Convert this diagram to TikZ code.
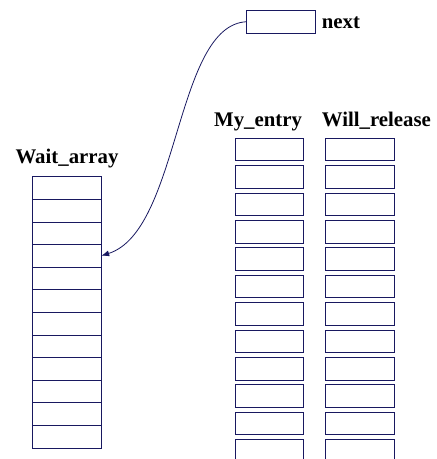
\documentclass[tikz,border=0pt]{standalone}
\usepackage{fontspec}
\setmainfont{Liberation Serif}
\usetikzlibrary{arrows.meta,positioning}
\definecolor{linenavy}{RGB}{24,24,96}
\tikzset{
   cell/.style = {rectangle,draw=linenavy,line width=0.8pt,minimum width=68.4pt,minimum height=22.6pt,inner sep=0pt,outer sep=0pt},
   title/.style = {font=\bfseries\fontsize{20.8}{25}\selectfont,inner sep=0pt},
   arrow/.style = {-{Latex[length=8pt,width=6pt]},draw=linenavy,line width=0.8pt},
}
\begin{document}
\begin{tikzpicture}

      \useasboundingbox (0pt,0pt) rectangle (437pt,-459pt);

      % wait array
      \foreach \i in {1,...,12}{
         \node[cell] (w\i) at (67pt,{-176.7pt-22.6pt*(\i-0.5)}) {};
      }
      \node[title,anchor=base] (waitlbl) at ([yshift=13.4pt]w1.north) {Wait\_array};

      % entry columns
      \foreach \i in {1,...,12}{
         \node[cell,minimum height=22.5pt] (my\i) at (269.2pt,{-149.5pt-27.4pt*(\i-1)}) {};
         \node[cell,minimum height=22.5pt] (will\i) at (359.9pt,{-149.5pt-27.4pt*(\i-1)}) {};
      }
      \node[title,anchor=base west] (mylbl) at (214pt,-126pt) {My\_entry};
      \node[title,anchor=base west] (willlbl) at (321.7pt,-126pt) {Will\_release};

      % next pointer
      \node[cell,minimum height=23pt] (next) at (281pt,-21.7pt) {};
      \node[title,anchor=base west] (nextlbl) at (321.7pt,-28pt) {next};

      \draw[arrow] (next.west) .. controls +(-72pt,-3pt) and +(79pt,25pt) .. (w4.east);

\end{tikzpicture}
\end{document}
